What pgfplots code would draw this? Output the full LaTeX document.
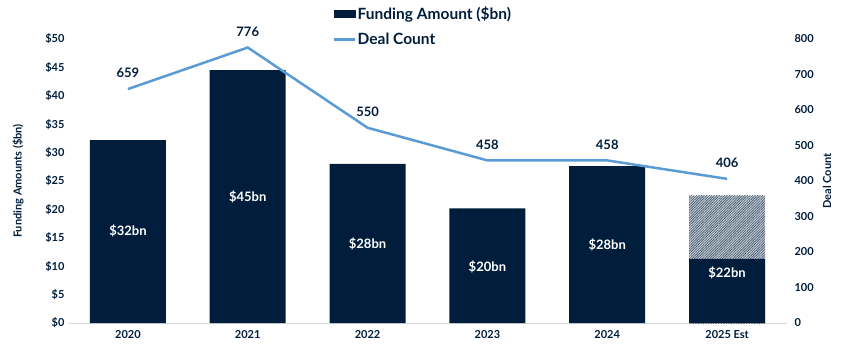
\documentclass[border=0pt]{standalone}
\usepackage{fontspec}
\setmainfont{Lato}
\usepackage{pgfplots}
\pgfplotsset{compat=1.18}
\usetikzlibrary{patterns.meta}
\definecolor{chartnavy}{HTML}{001E3C}
\definecolor{linebl}{HTML}{5B9BD5}
\begin{document}
\begin{tikzpicture}[font=\bfseries]
\useasboundingbox (-68pt,-37pt) rectangle (779pt,323pt);
\begin{axis}[
  at={(0,0)}, anchor=south west, scale only axis, width=719pt, height=284pt,
  xmin=-0.5, xmax=5.5, ymin=0, ymax=50,
  axis y line*=left, axis x line*=bottom,
  y axis line style={draw=none},
  x axis line style={draw=black!15, line width=0.8pt, -},
  xtick={0,...,5}, xticklabels={2020,2021,2022,2023,2024,2025 Est},
  ytick={0,5,...,50}, yticklabel={\$\pgfmathprintnumber{\tick}},
  major tick length=0pt,
  /pgf/number format/assume math mode=true,
  tick label style={font=\fontsize{11}{13}\selectfont\bfseries, text=chartnavy},
  xticklabel style={yshift=-4pt},
  ylabel={Funding Amounts (\$bn)},
  ylabel style={at={(axis description cs:-0.0695,0.5)}, anchor=center, font=\fontsize{11}{13}\selectfont\bfseries, text=chartnavy},
  clip=false,
]
\addplot[ybar, bar width=76pt, bar shift=0pt, draw=none, fill=chartnavy!22,
  postaction={pattern={Lines[angle=45,distance=1.8pt,line width=0.65pt]}, pattern color=chartnavy!75}]
  coordinates {(5,22.4)};
\addplot[ybar, bar width=76pt, bar shift=0pt, fill=chartnavy, draw=none]
  coordinates {(0,32.2) (1,44.5) (2,28.0) (3,20.2) (4,27.6) (5,11.3)};
\addplot[draw=none, nodes near coords, point meta=explicit symbolic,
  nodes near coords style={text=white, font=\fontsize{13}{15}\selectfont\bfseries, anchor=center}]
  coordinates {(0,16.2)[\$32bn] (1,22.2)[\$45bn] (2,13.9)[\$28bn] (3,9.9)[\$20bn] (4,13.8)[\$28bn] (5,8.8)[\$22bn]};
\end{axis}
\begin{axis}[
  at={(0,0)}, anchor=south west, scale only axis, width=719pt, height=284pt,
  xmin=-0.5, xmax=5.5, ymin=0, ymax=800,
  axis y line*=right, axis x line=none,
  y axis line style={draw=none},
  ytick={0,100,...,800},
  major tick length=0pt,
  /pgf/number format/assume math mode=true,
  tick label style={font=\fontsize{11}{13}\selectfont\bfseries, text=chartnavy},
  yticklabel style={xshift=4pt},
  ylabel={Deal Count},
  ylabel style={at={(axis description cs:1.0556,0.5)}, anchor=center, font=\fontsize{11}{13}\selectfont\bfseries, text=chartnavy},
  clip=false,
  legend style={at={(axis description cs:0.3686,1.118)}, anchor=north west, draw=none, fill=none,
    inner sep=0pt, font=\fontsize{15.5}{18}\selectfont\bfseries, text=chartnavy, row sep=10pt,
    nodes={inner sep=1pt}},
  legend cell align=left,
]
\addlegendimage{legend image code/.code={\fill[chartnavy] (0pt,-3.5pt) rectangle (21pt,3.5pt);}}
\addlegendentry{Funding Amount (\$bn)}
\addplot[linebl, line width=2.5pt, mark=none,
  legend image code/.code={\draw[linebl, line width=2.5pt] (0pt,0pt) -- (21pt,0pt);},
  nodes near coords, point meta=explicit symbolic,
  nodes near coords style={text=chartnavy, font=\fontsize{13}{15}\selectfont\bfseries, anchor=south, inner sep=0pt, yshift=10pt}]
  coordinates {(0,659)[659] (1,776)[776] (2,550)[550] (3,458)[458] (4,458)[458] (5,406)[406]};
\addlegendentry{Deal Count}
\end{axis}
\end{tikzpicture}
\end{document}
